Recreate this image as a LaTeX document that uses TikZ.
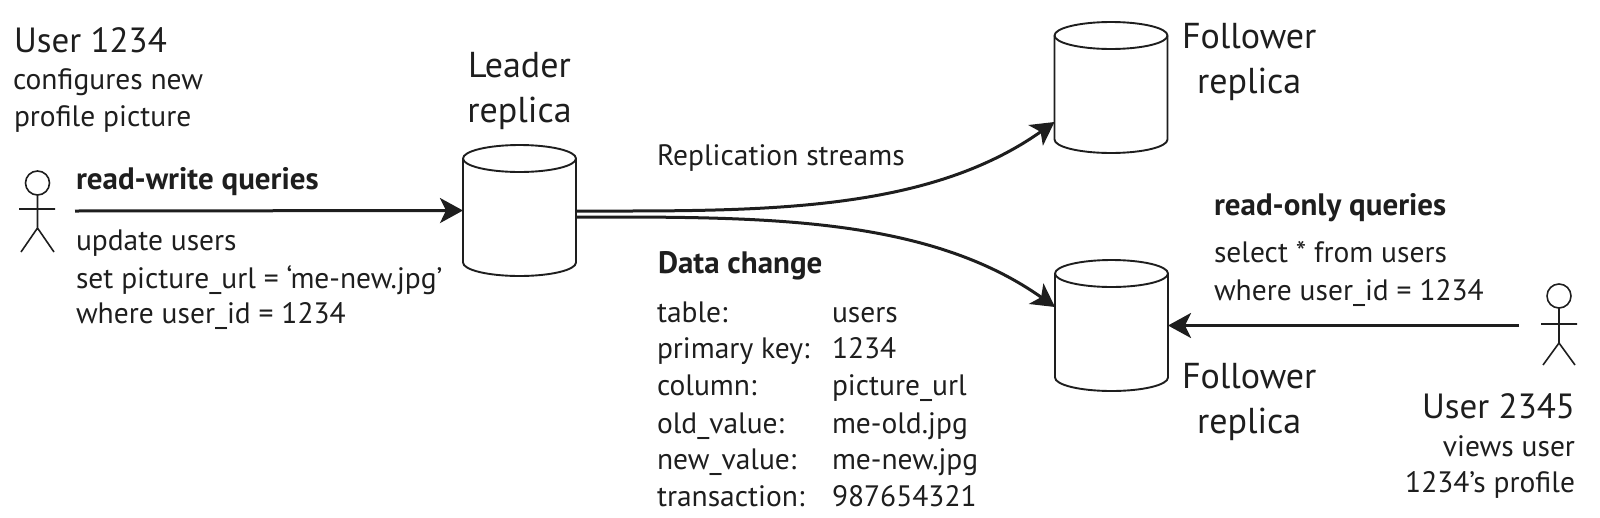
\documentclass[tikz,border=0pt]{standalone}
\usepackage{fontspec}
\setmainfont{PT Sans}
\usetikzlibrary{arrows.meta,calc}
\definecolor{ink}{HTML}{1E1E1E}
\tikzset{
  dbox/.style={minimum width=113pt,minimum height=131pt,inner sep=0pt,outer sep=0pt},
  dbline/.style={draw=ink,line width=1.9pt,fill=white},
  flow/.style={draw=ink,line width=3pt,-{Stealth[length=23pt,width=25pt,inset=6pt]}},
  limb/.style={draw=ink,line width=1.6pt},
  head/.style={draw=ink,line width=1.6pt,circle,minimum size=24pt,inner sep=0pt,outer sep=0pt},
  big/.style={anchor=base west,inner sep=0pt,outer sep=0pt,text=ink,font=\fontsize{36}{36}\selectfont},
  txt/.style={anchor=base west,inner sep=0pt,outer sep=0pt,text=ink,font=\fontsize{29.5}{29.5}\selectfont},
  btxt/.style={txt,font=\fontsize{31}{31}\selectfont\bfseries}
}
\newcommand{\dbcyl}[3]{%
  \node[dbox] (#1) at (#2,#3) {};
  \draw[dbline] ($(#1.north west)+(0,13.5)$)
     arc[start angle=180,end angle=360,x radius=56.5pt,y radius=13.5pt]
     -- ($(#1.south east)+(0,-13.5)$)
     arc[start angle=0,end angle=180,x radius=56.5pt,y radius=13.5pt]
     -- cycle;
  \draw[dbline,fill=none] ($(#1.north west)+(0,13.5)$)
     arc[start angle=180,end angle=0,x radius=56.5pt,y radius=13.5pt];
}
\begin{document}
\begin{tikzpicture}[x=1pt,y=1pt,yscale=-1]
\useasboundingbox (0,0) rectangle (1600,517);
\dbcyl{leader}{519.5}{210.5}
\dbcyl{ftop}{1111}{87.5}
\dbcyl{fbot}{1111.5}{325.5}
% actors
\node[head] (h1) at (37.5,183) {};
\coordinate (hip1) at (37.5,228);
\coordinate (armL1) at (19,209);
\coordinate (armR1) at (55,209);
\coordinate (legL1) at (21,252);
\coordinate (legR1) at (54,252);
\draw[limb] (h1.south) -- (hip1) (armL1) -- (armR1) (legL1) -- (hip1) -- (legR1);
\node[head] (h2) at (1559,296) {};
\coordinate (hip2) at (1559,343);
\coordinate (armL2) at (1541,324);
\coordinate (armR2) at (1577,324);
\coordinate (legL2) at (1543,365);
\coordinate (legR2) at (1575,365);
\draw[limb] (h2.south) -- (hip2) (armL2) -- (armR2) (legL2) -- (hip2) -- (legR2);
% connectors
\coordinate (wstart) at (75,211);
\coordinate (rstart) at (1519,325.5);
\coordinate (ftopin) at ($(ftop.west)+(0,34.5)$);
\coordinate (fbotin) at ($(fbot.west)+(0,-18.5)$);
\coordinate (lout1) at ($(leader.east)+(0,0.5)$);
\coordinate (lout2) at ($(leader.east)+(0,6.5)$);
\draw[flow] (wstart) -- (leader.west);
\draw[flow] (rstart) -- (fbot.east);
\draw[flow] (lout1) .. controls ($(lout1)+(180,0)$) and ($(ftopin)+(-130,92)$) .. (ftopin);
\draw[flow] (lout2) .. controls ($(lout2)+(180,0)$) and ($(fbotin)+(-130,-92)$) .. (fbotin);
% texts
\node[big,font=\fontsize{35}{35}\selectfont] (u1) at (14,52) {User 1234};
\node[txt] (u1a) at (13,89) {configures new};
\node[txt] (u1b) at (14,126) {profile picture};
\node[btxt] (rw) at (76,189) {read-write queries};
\node[txt] (q1) at (76,250) {update users};
\node[txt] (q2) at (76,288) {set picture\_url = ‘me-new.jpg’};
\node[txt] (q3) at (76,323) {where user\_id = 1234};
\node[big,anchor=base] (l1) at (519.5,77) {Leader};
\node[big,anchor=base] (l2) at (519.5,122) {replica};
\node[txt] (rs) at (657,165) {Replication streams};
\node[btxt] (dc) at (658,273) {Data change};
\node[txt] (k1) at (657,322) {table:};
\node[txt] (v1) at (832,322) {users};
\node[txt] (k2) at (657,358) {primary key:};
\node[txt] (v2) at (832,358) {1234};
\node[txt] (k3) at (657,395) {column:};
\node[txt] (v3) at (832,395) {picture\_url};
\node[txt] (k4) at (657,433) {old\_value:};
\node[txt] (v4) at (832,433) {me-old.jpg};
\node[txt] (k5) at (657,469) {new\_value:};
\node[txt] (v5) at (832,469) {me-new.jpg};
\node[txt] (k6) at (657,506) {transaction:};
\node[txt] (v6) at (832,506) {987654321};
\node[big] (f1) at (1182,48) {Follower};
\node[big] (f2) at (1197,93) {replica};
\node[btxt] (ro) at (1214,215) {read-only queries};
\node[txt] (s1) at (1214,262) {select * from users};
\node[txt] (s2) at (1214,300) {where user\_id = 1234};
\node[big] (f3) at (1182,388) {Follower};
\node[big] (f4) at (1197,433) {replica};
\node[big,anchor=base east,font=\fontsize{35}{35}\selectfont] (u2) at (1575,418) {User 2345};
\node[txt,anchor=base east] (u2a) at (1575,456) {views user};
\node[txt,anchor=base east] (u2b) at (1575,492) {1234’s profile};
\end{tikzpicture}
\end{document}
